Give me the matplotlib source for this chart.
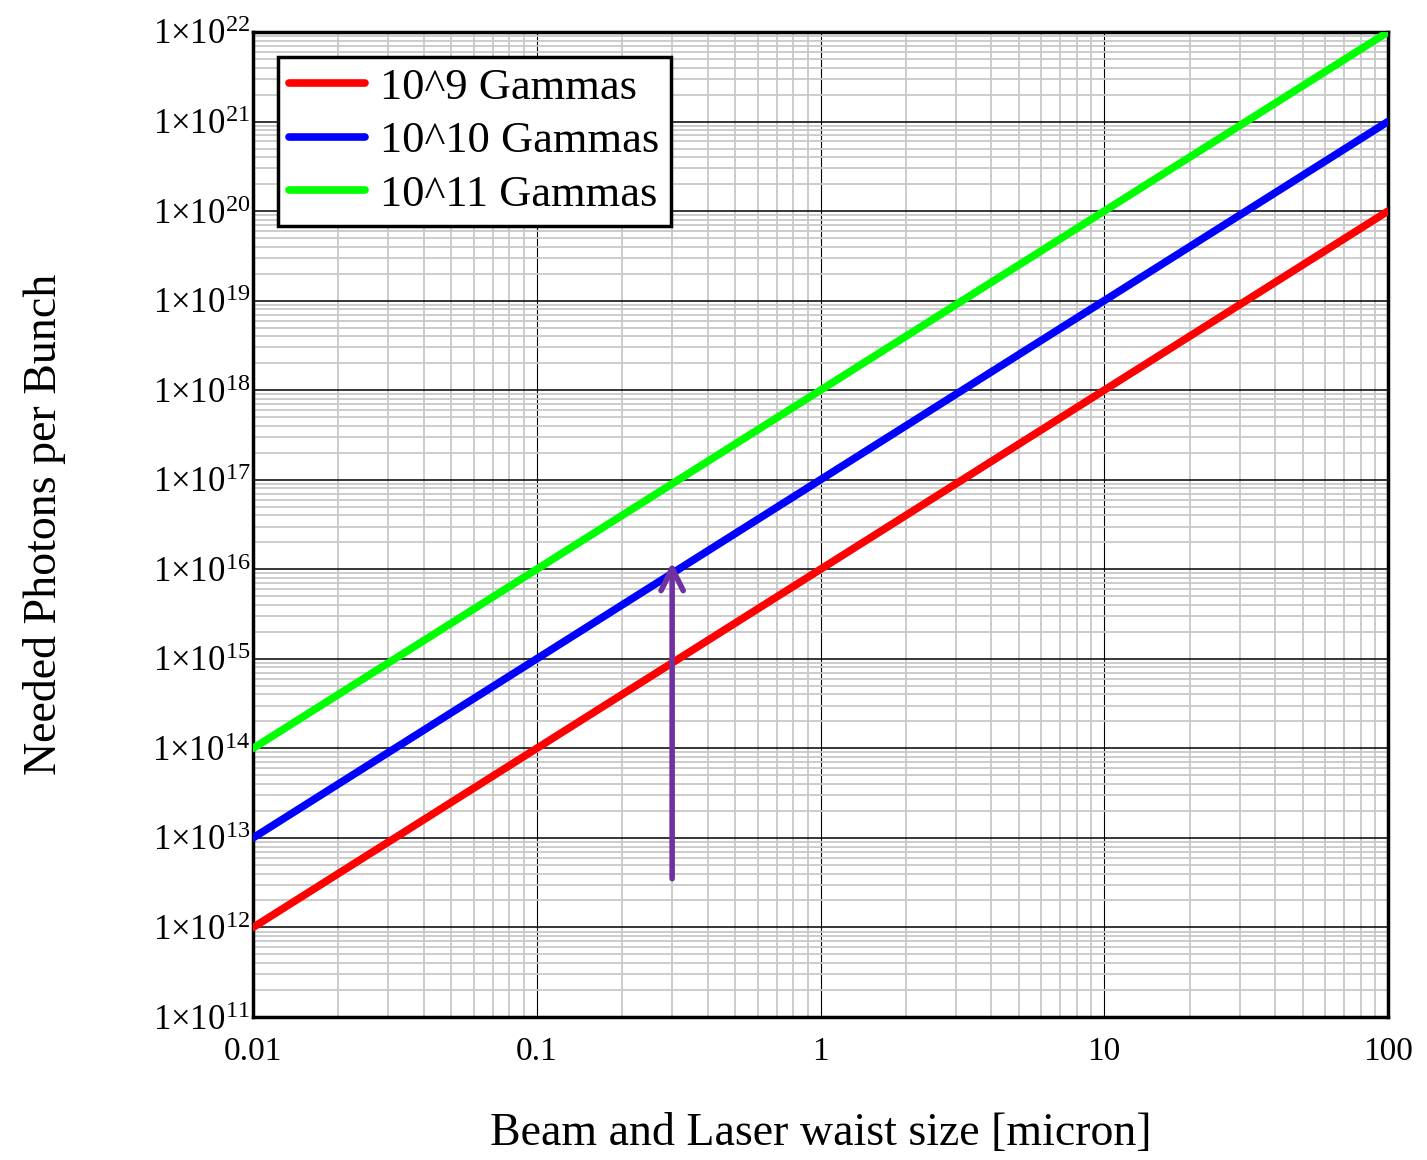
import numpy as np
import matplotlib.pyplot as plt
from matplotlib.ticker import LogLocator, FixedLocator, NullFormatter

plt.rcParams['font.family'] = ['Liberation Serif', 'DejaVu Serif']
plt.rcParams['mathtext.fontset'] = 'custom'
plt.rcParams['mathtext.rm'] = 'Liberation Serif'
plt.rcParams['mathtext.it'] = 'Liberation Serif'

# waist size [micron] and needed photons per bunch
waist = [0.01, 0.1, 1, 10, 100]
photons_1e9 = [1e12, 1e14, 1e16, 1e18, 1e20]
photons_1e10 = [1e13, 1e15, 1e17, 1e19, 1e21]
photons_1e11 = [1e14, 1e16, 1e18, 1e20, 1e22]

series = [('10^9 Gammas', photons_1e9, '#ff0000'),
          ('10^10 Gammas', photons_1e10, '#0000ff'),
          ('10^11 Gammas', photons_1e11, '#00ff00')]

# marker arrow at 0.3 micron
arrow_x = 0.3
arrow_y0 = 3.5e12
arrow_y1 = 1.2e16

x_ticks = [0.01, 0.1, 1, 10, 100]
x_ticklabels = ['0.01', '0.1', '1', '10', '100']
y_exps = list(range(11, 23))

fig = plt.figure(figsize=(14.27, 11.6), dpi=100)
ax = fig.add_axes([253/1427, 1 - 1017/1160, (1388-253)/1427, (1017-32)/1160])

for label, vals, col in series:
    ax.plot(waist, vals, color=col, lw=5.5, label=label, solid_capstyle='round', zorder=3)

ax.annotate('', xy=(arrow_x, arrow_y1), xytext=(arrow_x, arrow_y0),
            arrowprops=dict(arrowstyle='->', color='#7030a0', lw=4,
                            mutation_scale=40, shrinkA=0, shrinkB=0), zorder=4)

ax.set_xscale('log')
ax.set_yscale('log')
ax.set_xlim(0.01, 100)
ax.set_ylim(1e11, 1e22)

ax.xaxis.set_major_locator(FixedLocator(x_ticks))
ax.set_xticklabels(x_ticklabels)
ax.xaxis.set_minor_locator(LogLocator(base=10, subs=np.arange(2, 10)))
ax.xaxis.set_minor_formatter(NullFormatter())
ax.yaxis.set_major_locator(FixedLocator([10.0**e for e in y_exps]))
ax.set_yticklabels([r'$1{\times}10^{%d}$' % e for e in y_exps])
ax.yaxis.set_minor_locator(LogLocator(base=10, subs=np.arange(2, 10), numticks=30))
ax.yaxis.set_minor_formatter(NullFormatter())

ax.grid(which='minor', color='#c8c8c8', lw=1.3)
ax.grid(which='major', axis='y', color='#000000', lw=1.1)
ax.grid(which='major', axis='x', color='#000000', lw=0.8)
ax.set_axisbelow(True)
ax.tick_params(which='both', length=0, labelsize=25, pad=2)
ax.tick_params(axis='x', labelsize=24, pad=14)
for sp in ax.spines.values():
    sp.set_linewidth(2.5)

ax.set_xlabel('Beam and Laser waist size [micron]', fontsize=33, labelpad=33)
ax.set_ylabel('Needed Photons per Bunch', fontsize=33, labelpad=62)

leg = ax.legend(loc='upper left', bbox_to_anchor=(0.022, 0.975), fontsize=32,
                frameon=True, fancybox=False, handlelength=1.7, handletextpad=0.35,
                borderpad=0.25, labelspacing=0.3, borderaxespad=0)
leg.get_frame().set_edgecolor('black')
leg.get_frame().set_linewidth(2.5)
leg.get_frame().set_alpha(1)

fig.savefig('out.png', dpi=100)
